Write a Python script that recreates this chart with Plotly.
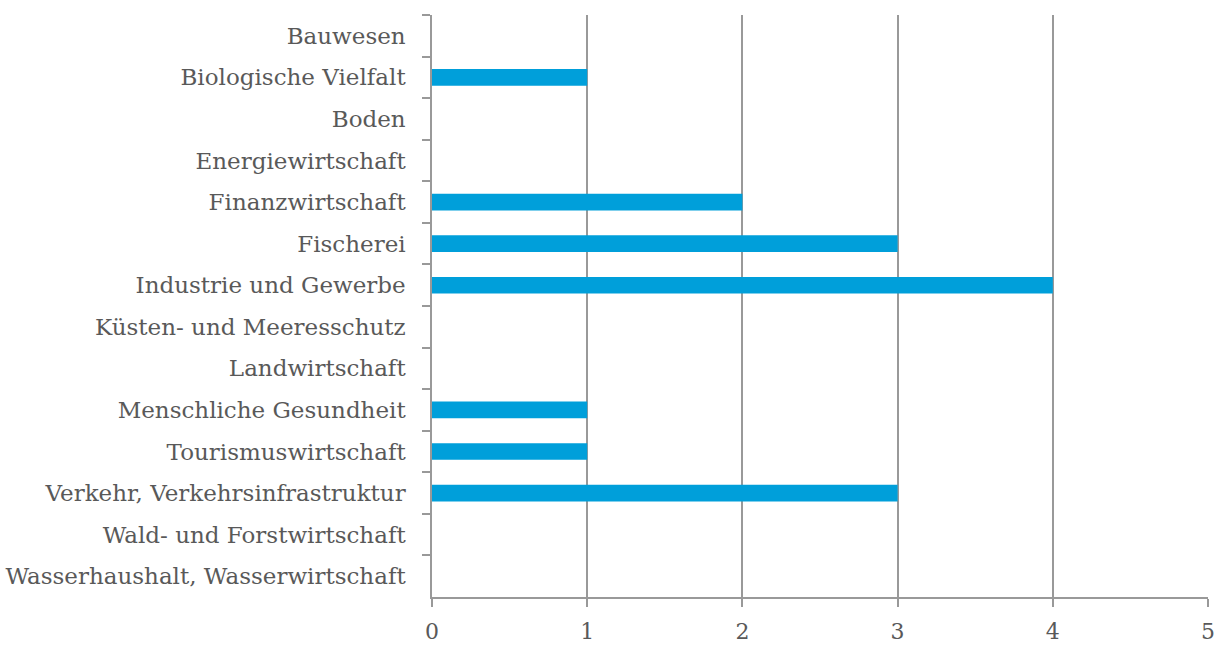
import plotly.graph_objects as go

categories = [
    "Bauwesen",
    "Biologische Vielfalt",
    "Boden",
    "Energiewirtschaft",
    "Finanzwirtschaft",
    "Fischerei",
    "Industrie und Gewerbe",
    "Küsten- und Meeresschutz",
    "Landwirtschaft",
    "Menschliche Gesundheit",
    "Tourismuswirtschaft",
    "Verkehr, Verkehrsinfrastruktur",
    "Wald- und Forstwirtschaft",
    "Wasserhaushalt, Wasserwirtschaft",
]
counts = [0, 1, 0, 0, 2, 3, 4, 0, 0, 1, 1, 3, 0, 0]
x_ticks = [0, 1, 2, 3, 4, 5]

GRID = "#999999"
TEXT = "#595959"
FONT = "DejaVu Serif"
SIZE = 23

fig = go.Figure(
    go.Bar(
        x=counts,
        y=categories,
        orientation="h",
        marker=dict(color="#009FDA", line=dict(width=0)),
        hoverinfo="x+y",
    )
)

fig.update_layout(
    width=1217,
    height=646,
    margin=dict(l=432, r=9, t=15, b=49, autoexpand=False),
    paper_bgcolor="white",
    plot_bgcolor="white",
    bargap=0.6,
    showlegend=False,
    font=dict(family=FONT, size=SIZE, color=TEXT),
)

fig.update_xaxes(
    range=[0, 5],
    tickvals=x_ticks,
    ticktext=[str(v) for v in x_ticks],
    automargin=False,
    showgrid=True,
    gridcolor=GRID,
    gridwidth=1.5,
    showline=True,
    linecolor=GRID,
    linewidth=1.5,
    ticks="outside",
    ticklen=8,
    tickcolor=GRID,
    tickwidth=1.5,
    zeroline=False,
    ticklabelstandoff=6,
    tickfont=dict(family=FONT, size=22, color=TEXT),
)

fig.update_yaxes(
    type="category",
    autorange="reversed",
    automargin=False,
    showgrid=False,
    showline=True,
    linecolor=GRID,
    linewidth=1.5,
    ticks="outside",
    tickson="boundaries",
    ticklen=8,
    tickcolor=GRID,
    tickwidth=1.5,
    ticklabelstandoff=20,
    tickfont=dict(family=FONT, size=SIZE, color=TEXT),
)

fig.write_html("out.html")
